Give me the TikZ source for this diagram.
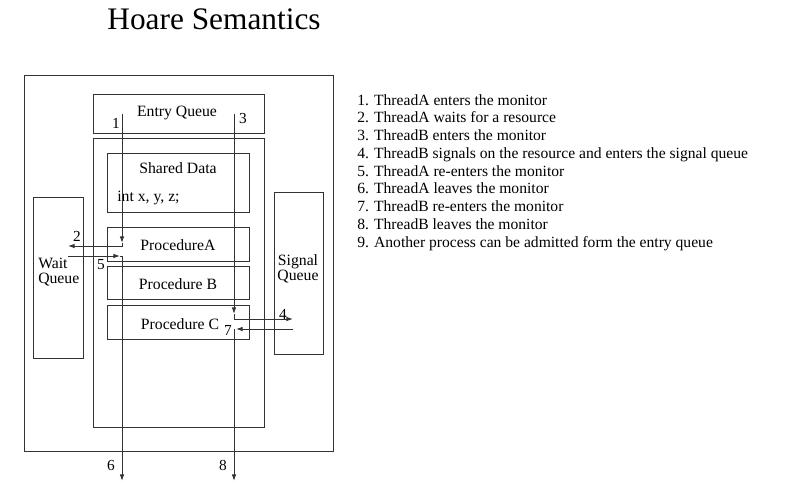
\documentclass[tikz,border=0pt]{standalone}
\usepackage{fontspec}
\setmainfont{Liberation Serif}
\usetikzlibrary{fit,arrows.meta}
\begin{document}
\begin{tikzpicture}[x=0.75pt,y=-0.75pt,
  box/.style={draw=black!80,line width=0.75pt,inner sep=0pt},
  lbl/.style={font=\fontsize{11.8}{13}\selectfont,inner sep=0pt},
  num/.style={font=\fontsize{11.5}{13}\selectfont,inner sep=0pt},
  item/.style={font=\fontsize{11.7}{13}\selectfont,inner sep=0pt,anchor=base west},
  arr/.style={draw=black!80,line width=0.75pt,-{Latex[length=5pt,width=3.5pt]}},
  ln/.style={draw=black!80,line width=0.75pt}]
\useasboundingbox (0,0) rectangle (797,497);
\fill[white] (0,0) rectangle (797,497);
\node[font=\fontsize{23.5}{26}\selectfont,inner sep=0pt,anchor=base] (title) at (214,29) {Hoare Semantics};
% boxes
\node[box,fit={(24,75)(333,451)}] (outer) {};
\node[box,fit={(93,94)(264,133)}] (entry) {};
\node[box,fit={(93,138)(264,427)}] (monitor) {};
\node[box,fit={(107,153)(249,212)}] (shared) {};
\node[box,fit={(107,227)(249,261)}] (procA) {};
\node[box,fit={(107,266)(249,299)}] (procB) {};
\node[box,fit={(107,305)(249,339)}] (procC) {};
\node[box,fit={(33,197)(83,358)}] (wait) {};
\node[box,fit={(274,192)(323,354)}] (signal) {};
% texts
\node[lbl] (tentry) at (177,113) {Entry Queue};
\node[lbl] (tshared) at (178,168) {Shared Data};
\node[lbl,anchor=west] (tint) at (117,198) {int x, y, z;};
\node[lbl] (tA) at (178,245) {ProcedureA};
\node[lbl] (tB) at (178,284) {Procedure B};
\node[lbl] (tC) at (180,324) {Procedure C};
\node[lbl,align=left,anchor=west,font=\fontsize{11.8}{11.3}\selectfont] (twait) at (38,272) {Wait\\Queue};
\node[lbl,align=center,font=\fontsize{11.8}{10.8}\selectfont] (tsig) at (298,269) {Signal\\Queue};
% connector points
\coordinate (p1s) at (122,114);
\coordinate (p1e) at (122,243);
\coordinate (p2e) at (68,246);
\coordinate (p5s) at (68,256);
\coordinate (p5e) at (120,256);
\coordinate (p6s) at (122,256);
\coordinate (p6e) at (122,481);
\coordinate (p3s) at (234,114);
\coordinate (p3e) at (234,314);
\coordinate (p4s) at (234,319);
\coordinate (p4e) at (293,319);
\coordinate (p7s) at (293,329);
\coordinate (p7e) at (236,329);
\coordinate (p8s) at (234,329);
\coordinate (p8e) at (234,481);
\draw[arr] (p1s) -- (p1e);
\draw[arr] (p1e) |- (p2e);
\draw[arr] (p5s) -- (p5e);
\draw[ln] (p5e) -- (p6s);
\draw[arr] (p6s) -- (p6e);
\draw[arr] (p3s) -- (p3e);
\draw[ln] (p3e) -- (p4s);
\draw[arr] (p4s) -- (p4e);
\draw[arr] (p7s) -- (p7e);
\draw[arr] (p8s) -- (p8e);
% numbers
\node[num] (n1) at (116,123) {1};
\node[num] (n2) at (77,236) {2};
\node[num] (n3) at (243,118) {3};
\node[num] (n4) at (283,314) {4};
\node[num] (n5) at (101,265) {5};
\node[num] (n6) at (111,465) {6};
\node[num] (n7) at (228,330) {7};
\node[num] (n8) at (223,465) {8};
% list
\node[item] (l1) at (357,105) {1. ThreadA enters the monitor};
\node[item] (l2) at (357,122.75) {2. ThreadA waits for a resource};
\node[item] (l3) at (357,140.5) {3. ThreadB enters the monitor};
\node[item] (l4) at (357,158.25) {4. ThreadB signals on the resource and enters the signal queue};
\node[item] (l5) at (357,176) {5. ThreadA re-enters the monitor};
\node[item] (l6) at (357,193.75) {6. ThreadA leaves the monitor};
\node[item] (l7) at (357,211.5) {7. ThreadB re-enters the monitor};
\node[item] (l8) at (357,229.25) {8. ThreadB leaves the monitor};
\node[item] (l9) at (357,247) {9. Another process can be admitted form the entry queue};
\end{tikzpicture}
\end{document}
